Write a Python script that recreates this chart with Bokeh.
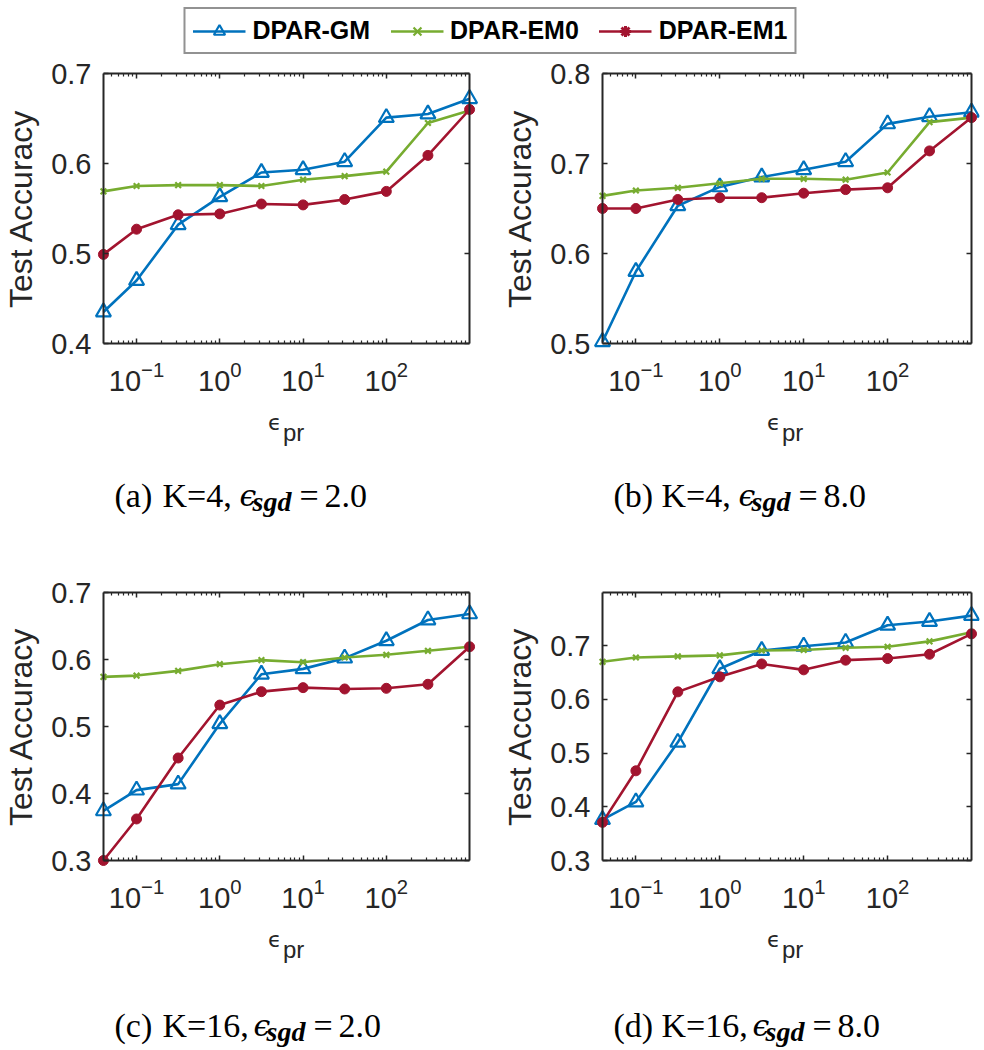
import math
from bokeh.plotting import figure
from bokeh.layouts import column, row
from bokeh.models import (LogAxis, LinearAxis, FixedTicker, LogTickFormatter,
                          BasicTickFormatter, CustomJSTickFormatter, Label,
                          Legend, LegendItem, Range1d)
from bokeh.embed import file_html
from bokeh.resources import INLINE

# ---------------- data ----------------
eps_pr = [0.04, 0.1, 0.316, 1, 3.16, 10, 31.6, 100, 316, 1000]
series_names = ["DPAR-GM", "DPAR-EM0", "DPAR-EM1"]

a_gm  = [0.435, 0.470, 0.532, 0.563, 0.590, 0.593, 0.602, 0.651, 0.655, 0.672]
a_em0 = [0.569, 0.575, 0.576, 0.576, 0.575, 0.582, 0.586, 0.591, 0.645, 0.659]
a_em1 = [0.499, 0.527, 0.543, 0.544, 0.555, 0.554, 0.560, 0.569, 0.609, 0.660]

b_gm  = [0.502, 0.580, 0.653, 0.674, 0.685, 0.693, 0.702, 0.744, 0.752, 0.757]
b_em0 = [0.664, 0.670, 0.673, 0.678, 0.683, 0.683, 0.682, 0.690, 0.746, 0.751]
b_em1 = [0.650, 0.650, 0.660, 0.662, 0.662, 0.667, 0.671, 0.673, 0.714, 0.751]

c_gm  = [0.374, 0.405, 0.414, 0.504, 0.578, 0.586, 0.602, 0.628, 0.659, 0.668]
c_em0 = [0.574, 0.576, 0.583, 0.593, 0.599, 0.596, 0.603, 0.607, 0.613, 0.619]
c_em1 = [0.300, 0.362, 0.453, 0.532, 0.552, 0.558, 0.556, 0.557, 0.563, 0.619]

d_gm  = [0.376, 0.409, 0.520, 0.657, 0.691, 0.699, 0.706, 0.738, 0.745, 0.756]
d_em0 = [0.670, 0.678, 0.680, 0.682, 0.691, 0.692, 0.696, 0.698, 0.708, 0.725]
d_em1 = [0.371, 0.467, 0.614, 0.642, 0.666, 0.655, 0.673, 0.676, 0.684, 0.722]

x_major_ticks = [0.1, 1, 10, 100]
x_minor_ticks = [k * 10.0 ** e for e in range(-2, 3) for k in range(2, 10)
                 if 0.04 < k * 10.0 ** e < 1000]

yticks_a = [0.4, 0.5, 0.6, 0.7]
yticks_b = [0.5, 0.6, 0.7, 0.8]
yticks_c = [0.3, 0.4, 0.5, 0.6, 0.7]
yticks_d = [0.3, 0.4, 0.5, 0.6, 0.7]

y_label = "Test Accuracy"
captions = [("(a)", "K=4,", "2.0"), ("(b)", "K=4,", "8.0"),
            ("(c)", "K=16,", "2.0"), ("(d)", "K=16,", "8.0")]

# ---------------- style / layout ----------------
BLUE, GREEN, RED, AX = "#0072BD", "#77AC30", "#A2142F", "#262626"
SANS, SERIF = "Liberation Sans", "Liberation Serif"

BOTTOM = 54   # panel bottom border (room for the tick labels)
Y_FIX = 11    # measured downward offset of the caption strips
# column x / width ; row y / row height / caption baseline offset below the box
COLS = [(0, 490), (490, 492)]
ROWS = [(56, 484, 163), (540, 508, 176)]

panels = [
    dict(gm=a_gm, em0=a_em0, em1=a_em1, ylim=(0.4, 0.7), yticks=yticks_a,
         cap=captions[0], box=(100, 469, 73, 343), col=0, row=0),
    dict(gm=b_gm, em0=b_em0, em1=b_em1, ylim=(0.5, 0.8), yticks=yticks_b,
         cap=captions[1], box=(602, 971, 73, 343), col=1, row=0),
    dict(gm=c_gm, em0=c_em0, em1=c_em1, ylim=(0.3, 0.7), yticks=yticks_c,
         cap=captions[2], box=(100, 469, 592, 860), col=0, row=1),
    dict(gm=d_gm, em0=d_em0, em1=d_em1, ylim=(0.3, 0.799), yticks=yticks_d,
         cap=captions[3], box=(602, 971, 592, 860), col=1, row=1),
]


def build_panel(spec):
    bl, br, bt, bb = spec["box"]
    fx, fw = COLS[spec["col"]]
    fy, rh, cap_off = ROWS[spec["row"]]
    ml, mt, mb = 10, 10, 10
    mr = 10 if spec["col"] == 0 else 8
    fl, fr, ft, fb = bl - ml, br + mr, bt - mt, bb + mb
    fh = fb + BOTTOM - fy
    ch = rh - fh
    x0, x1 = eps_pr[0], eps_pr[-1]
    y0, y1 = spec["ylim"]
    lx0, lx1 = math.log10(x0), math.log10(x1)
    dpp = (lx1 - lx0) / (br - bl)
    upp = (y1 - y0) / (bb - bt)

    p = figure(width=fw, height=fh, x_axis_type="log",
               x_range=Range1d(10 ** (lx0 - ml * dpp), 10 ** (lx1 + mr * dpp)),
               y_range=Range1d(y0 - mb * upp, y1 + mt * upp),
               x_axis_location=None, y_axis_location=None,
               toolbar_location=None, output_backend="svg",
               min_border_left=fl - fx, min_border_right=fx + fw - fr,
               min_border_top=ft - fy, min_border_bottom=BOTTOM)
    p.grid.visible = False
    p.outline_line_color = None
    p.background_fill_color = "white"
    p.border_fill_color = "white"

    # label-only axes at the frame edges
    xlab = LogAxis(ticker=FixedTicker(ticks=x_major_ticks), formatter=LogTickFormatter(),
                   axis_line_color=None, major_tick_line_color=None,
                   minor_tick_line_color=None, major_tick_out=0, major_tick_in=0,
                   major_label_standoff=7, major_label_text_font=SANS,
                   major_label_text_font_size="29px", major_label_text_color=AX)
    p.add_layout(xlab, "below")
    ylab = LinearAxis(ticker=FixedTicker(ticks=spec["yticks"]), formatter=BasicTickFormatter(),
                      axis_line_color=None, major_tick_line_color=None,
                      minor_tick_line_color=None, major_tick_out=0, major_tick_in=0,
                      major_label_standoff=2, major_label_text_font=SANS,
                      major_label_text_font_size="29px", major_label_text_color=AX,
                      axis_label=y_label, axis_label_standoff=9,
                      axis_label_text_font=SANS, axis_label_text_font_size="32px",
                      axis_label_text_font_style="normal", axis_label_text_color=AX)
    p.add_layout(ylab, "left")

    # box axes (lines + inward ticks) fixed at the data limits
    def common():
        return dict(axis_line_color=AX, axis_line_width=2,
                    major_tick_line_color=AX, major_tick_line_width=1.5,
                    major_tick_in=5, major_tick_out=0,
                    minor_tick_line_color=AX, minor_tick_line_width=1.2,
                    minor_tick_in=3, minor_tick_out=0,
                    major_label_standoff=0, major_label_text_font_size="1px",
                    formatter=CustomJSTickFormatter(code="return ''"))
    for side, loc in (("below", y0), ("above", y1)):
        p.add_layout(LogAxis(ticker=FixedTicker(ticks=x_major_ticks, minor_ticks=x_minor_ticks),
                             fixed_location=loc, bounds=(x0, x1), **common()), side)
    for side, loc in (("left", x0), ("right", x1)):
        p.add_layout(LinearAxis(ticker=FixedTicker(ticks=spec["yticks"], minor_ticks=[]),
                                fixed_location=loc, bounds=(y0, y1), **common()), side)

    # series
    p.line(eps_pr, spec["gm"], color=BLUE, line_width=2.6)
    p.scatter(eps_pr, spec["gm"], marker="triangle", size=15, line_color=BLUE,
              fill_color=None, line_width=2.2)
    p.line(eps_pr, spec["em0"], color=GREEN, line_width=2.6)
    p.scatter(eps_pr, spec["em0"], marker="x", size=8, line_color=GREEN, line_width=2.2)
    p.line(eps_pr, spec["em1"], color=RED, line_width=2.6)
    p.scatter(eps_pr, spec["em1"], marker="circle", size=10, color=RED)

    # caption strip (x label + sub-caption); its frame matches the panel frame horizontally
    cy = fy + fh
    cap = figure(width=fw, height=ch, x_range=Range1d(0, 1), y_range=Range1d(0, 1),
                 x_axis_location=None, y_axis_location=None, toolbar_location=None,
                 output_backend="svg", min_border_left=fl - fx,
                 min_border_right=fx + fw - fr, min_border_top=0, min_border_bottom=0)
    cap.grid.visible = False
    cap.outline_line_color = None

    def lab(text, X, Y, **kw):
        cap.add_layout(Label(x=X - fl, y=cy + ch - (Y - Y_FIX), x_units="screen",
                             y_units="screen", text=text, text_baseline="alphabetic", **kw))

    cx = (bl + br) / 2
    lab("\u03f5", cx - 20, bb + 90, text_font="DejaVu Sans", text_font_size="22px",
        text_color=AX)
    lab("pr", cx - 5, bb + 100, text_font=SANS, text_font_size="24px", text_color=AX)

    tag, kval, sval = spec["cap"]
    base = bb + cap_off
    shift = 14 if kval == "K=16," else 0
    lab(tag, bl + 11, base, text_font=SERIF, text_font_size="34px", text_color="black")
    lab(kval, bl + 59, base, text_font=SERIF, text_font_size="34px", text_color="black")
    lab("\u03f5", bl + 136 + shift, base, text_font="DejaVu Serif", text_font_style="italic",
        text_font_size="30px", text_color="black")
    lab("sgd", bl + 149 + shift, base + 6, text_font=SERIF, text_font_style="bold italic",
        text_font_size="28px", text_color="black")
    lab("=", bl + 196 + shift, base, text_font=SERIF, text_font_size="34px",
        text_color="black")
    lab(sval, bl + 221 + shift, base, text_font=SERIF, text_font_size="34px",
        text_color="black")
    return column(p, cap, spacing=0)


cells = [build_panel(s) for s in panels]

# ---------------- legend ----------------
leg = figure(width=980, height=56, x_range=(0, 1), y_range=(0, 1),
             x_axis_location=None, y_axis_location=None, toolbar_location=None,
             output_backend="svg", min_border=0)
leg.grid.visible = False
leg.outline_line_color = None
dx, dy = [5, 6], [5, 6]
r1 = leg.line(dx, dy, color=BLUE, line_width=2.6)
s1 = leg.scatter(dx, dy, marker="triangle", line_color=BLUE, fill_color=None, line_width=2.2)
r2 = leg.line(dx, dy, color=GREEN, line_width=2.6)
s2 = leg.scatter(dx, dy, marker="x", line_color=GREEN, line_width=2.2)
r3 = leg.line(dx, dy, color=RED, line_width=2.6)
s3 = leg.scatter(dx, dy, marker="asterisk", line_color=RED, line_width=3)
legend = Legend(items=[LegendItem(label=series_names[0], renderers=[r1, s1]),
                       LegendItem(label=series_names[1], renderers=[r2, s2]),
                       LegendItem(label=series_names[2], renderers=[r3, s3])],
                orientation="horizontal", location="top_center", margin=7,
                padding=7, spacing=20, glyph_width=53, glyph_height=28,
                label_standoff=7, label_height=28,
                label_text_font=SANS, label_text_font_style="bold",
                label_text_font_size="25px", label_text_color="black",
                border_line_color=AX, border_line_width=2,
                background_fill_color="white", background_fill_alpha=1.0)
leg.add_layout(legend)

layout = column(leg, row(cells[0], cells[1], spacing=0),
                row(cells[2], cells[3], spacing=0), spacing=0)
open("out.html", "w").write(file_html(layout, INLINE, title="DPAR test accuracy"))
